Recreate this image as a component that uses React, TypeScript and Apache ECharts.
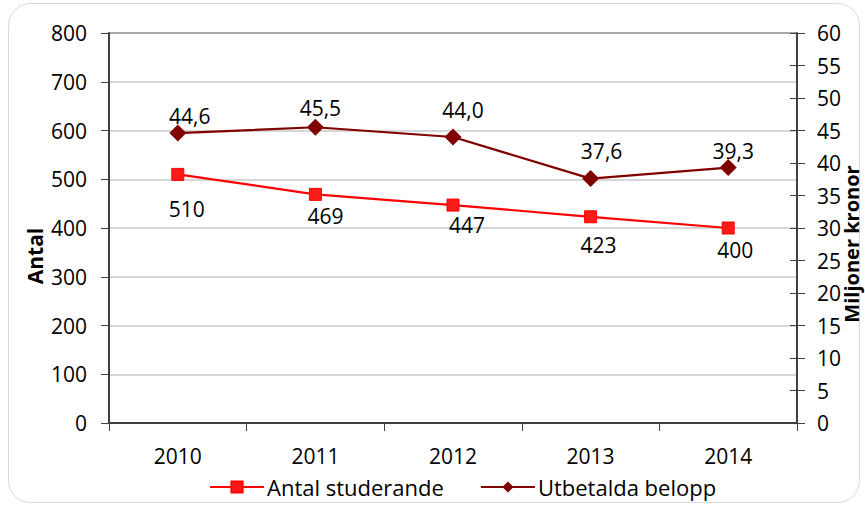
import React, { useEffect, useRef } from "react";
import * as echarts from "echarts";

const years = ["2010", "2011", "2012", "2013", "2014"];
const antalStuderande = [510, 469, 447, 423, 400];
const utbetaldaBelopp = [44.6, 45.5, 44.0, 37.6, 39.3];
const leftTicks = { min: 0, max: 800, interval: 100 };
const rightTicks = { min: 0, max: 60, interval: 5 };
const leftTitle = "Antal";
const rightTitle = "Miljoner kronor";

// label placement offsets (styling, not data)
const antalLabelOffsets = [[9, 35], [10, 22], [14, 20], [8, 28], [7, 22]];
const beloppLabelOffsets = [[12, -17], [5, -19], [10, -27], [11, -28], [5, -17]];

const FONT = "Open Sans";
const FS = 21;

export default function App() {
  const ref = useRef<HTMLDivElement>(null);
  useEffect(() => {
    const chart = echarts.init(ref.current!, null, { renderer: "svg" });
    const grey = "#c8c8c8";
    const gridColors = [grey, grey, grey, grey, grey, grey, grey, grey, "#8c8c8c"];
    const axisLabelStyle = { color: "#000", fontFamily: FONT, fontSize: FS };
    chart.setOption({
      animation: false,
      backgroundColor: "#fff",
      textStyle: { fontFamily: FONT },
      graphic: [
        {
          type: "rect",
          shape: { x: 8.5, y: 3.5, width: 851, height: 499, r: 22 },
          style: { fill: "none", stroke: "#d9d9d9", lineWidth: 1 },
          z: -10,
        },
        {
          type: "text",
          x: 35,
          y: 256,
          rotation: Math.PI / 2,
          style: {
            text: leftTitle,
            fill: "#000",
            font: `bold 21px '${FONT}'`,
            textAlign: "center",
            textVerticalAlign: "middle",
          },
        },
        {
          type: "text",
          x: 851,
          y: 244,
          rotation: Math.PI / 2,
          style: {
            text: rightTitle,
            fill: "#000",
            font: `bold 20px '${FONT}'`,
            textAlign: "center",
            textVerticalAlign: "middle",
          },
        },
      ],
      grid: { left: 109, right: 68, top: 33, bottom: 83, containLabel: false },
      legend: {
        left: 204,
        top: 471,
        itemWidth: 54,
        itemHeight: 14,
        itemGap: 36,
        textStyle: { color: "#000", fontFamily: FONT, fontSize: 22, padding: [0, 0, 0, -2] },
        data: ["Antal studerande", "Utbetalda belopp"],
      },
      xAxis: {
        type: "category",
        data: years,
        boundaryGap: true,
        axisLine: { lineStyle: { color: "#404040", width: 2 } },
        axisTick: { show: true, interval: 0, length: 8, lineStyle: { color: "#404040", width: 1 } },
        axisLabel: { ...axisLabelStyle, margin: 22 },
        splitLine: { show: false },
      },
      yAxis: [
        {
          type: "value",
          position: "left",
          ...leftTicks,
          axisLine: { show: true, lineStyle: { color: "#404040", width: 2 } },
          axisTick: { show: true, length: 8, lineStyle: { color: "#404040", width: 1 } },
          axisLabel: { ...axisLabelStyle, margin: 22 },
          splitLine: { show: true, lineStyle: { color: gridColors, width: 1.5 } },
        },
        {
          type: "value",
          position: "right",
          ...rightTicks,
          axisLine: { show: true, lineStyle: { color: "#404040", width: 2 } },
          axisTick: { show: true, length: 8, lineStyle: { color: "#404040", width: 1 } },
          axisLabel: { ...axisLabelStyle, margin: 20 },
          splitLine: { show: false },
        },
        {
          type: "value",
          position: "right",
          ...rightTicks,
          axisLine: { show: false },
          axisTick: { show: true, inside: true, length: 7, lineStyle: { color: "#404040", width: 1 } },
          axisLabel: { show: false },
          splitLine: { show: false },
        },
      ],
      series: [
        {
          name: "Antal studerande",
          type: "line",
          yAxisIndex: 0,
          data: antalStuderande.map((v, i) => ({
            value: v,
            label: { offset: antalLabelOffsets[i] },
          })),
          symbol: "rect",
          symbolSize: 12,
          itemStyle: { color: "#ff1a1a", borderColor: "#ff0000", borderWidth: 1 },
          lineStyle: { color: "#ff0000", width: 2.2 },
          label: {
            show: true,
            position: "inside",
            color: "#000",
            fontFamily: FONT,
            fontSize: FS,
          },
          z: 3,
        },
        {
          name: "Utbetalda belopp",
          type: "line",
          yAxisIndex: 1,
          data: utbetaldaBelopp.map((v, i) => ({
            value: v,
            label: { offset: beloppLabelOffsets[i] },
          })),
          symbol: "diamond",
          symbolSize: [17, 17],
          itemStyle: { color: "#800000" },
          lineStyle: { color: "#800000", width: 2.2 },
          label: {
            show: true,
            position: "inside",
            color: "#000",
            fontFamily: FONT,
            fontSize: FS,
            formatter: (p: any) => Number(p.value).toFixed(1).replace(".", ","),
          },
          z: 3,
        },
      ],
    });
    return () => chart.dispose();
  }, []);
  return (
    <div
      ref={ref}
      style={{ position: "fixed", left: 0, top: 0, width: 865, height: 506 }}
    />
  );
}
